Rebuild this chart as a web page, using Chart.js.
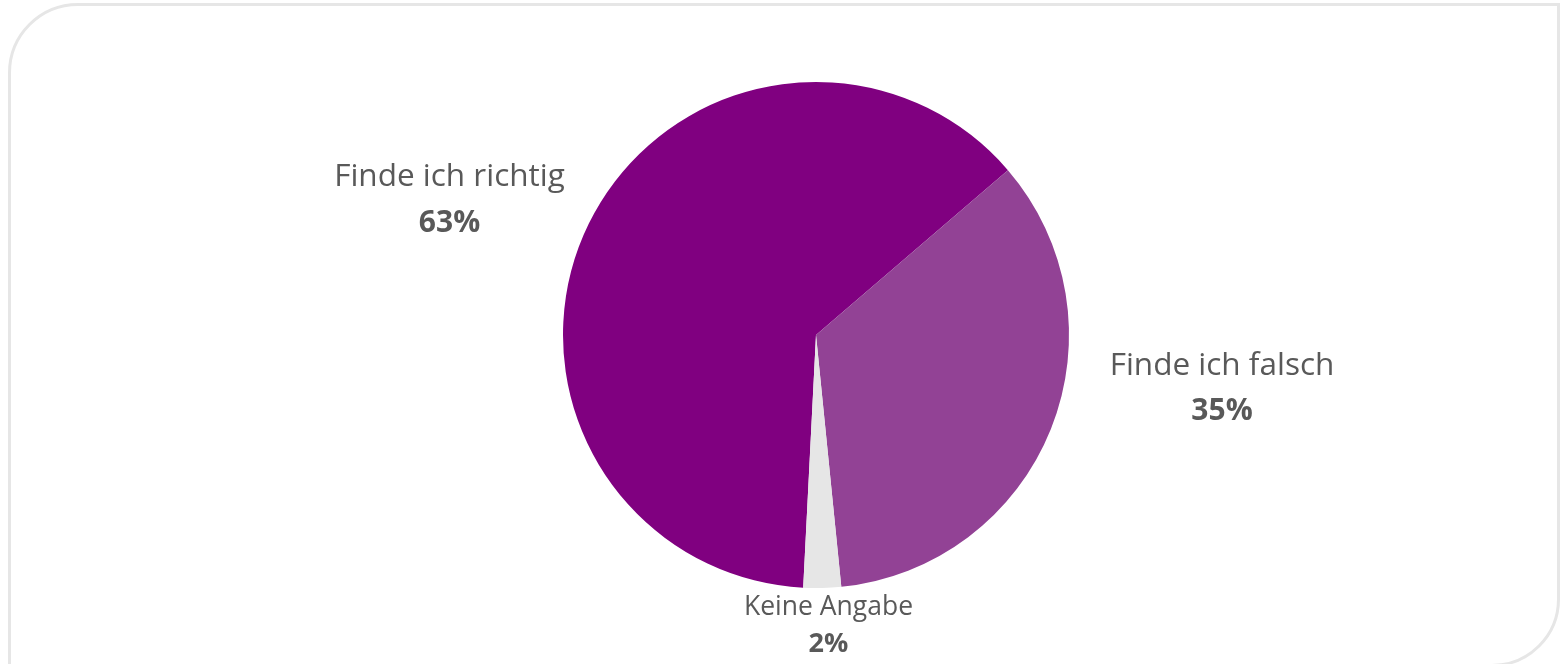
<!DOCTYPE html>
<html>
<head>
<meta charset="utf-8">
<script src="https://cdn.jsdelivr.net/npm/chart.js@4.4.1/dist/chart.umd.min.js"></script>
<style>
html,body{margin:0;padding:0;background:#fff;overflow:hidden;}
#wrap{position:absolute;left:0;top:0;width:1565px;height:664px;}
#card{position:absolute;left:8px;top:3px;width:1552px;height:664px;border:3px solid #e6e6e6;border-top-left-radius:70px;border-bottom-right-radius:68px;box-sizing:border-box;}
</style>
</head>
<body>
<div id="card"></div>
<div id="wrap"><canvas id="c" width="1565" height="664"></canvas></div>
<script>
const categories = ["Finde ich richtig", "Finde ich falsch", "Keine Angabe"];
const values = [62.9, 34.7, 2.4];
const percentLabels = ["63%", "35%", "2%"];
const colors = ["#800080", "#924295", "#e6e6e6"];
const labelPos = [[449.5, 186, 232, 31.5, 30], [1222, 375, 420, 31.5, 30], [828.5, 615, 652, 26.5, 27]];

const labelPlugin = {
  id: 'labels',
  afterDraw(chart) {
    const ctx = chart.ctx;
    ctx.save();
    ctx.textAlign = 'center';
    ctx.textBaseline = 'alphabetic';
    ctx.fillStyle = '#595959';
    categories.forEach((cat, i) => {
      const p = labelPos[i];
      ctx.font = p[3] + 'px "Open Sans"';
      ctx.fillText(cat, p[0], p[1]);
      ctx.font = 'bold ' + p[4] + 'px "Open Sans"';
      ctx.fillText(percentLabels[i], p[0], p[2]);
    });
    ctx.restore();
  }
};

new Chart(document.getElementById('c'), {
  type: 'pie',
  data: {
    labels: categories,
    datasets: [{ data: values, backgroundColor: colors, borderWidth: 0 }]
  },
  options: {
    responsive: false,
    animation: false,
    rotation: 182.9,
    layout: { padding: { left: 563, right: 496, top: 82, bottom: 76 } },
    plugins: { legend: { display: false }, tooltip: { enabled: false } }
  },
  plugins: [labelPlugin]
});
</script>
</body>
</html>
